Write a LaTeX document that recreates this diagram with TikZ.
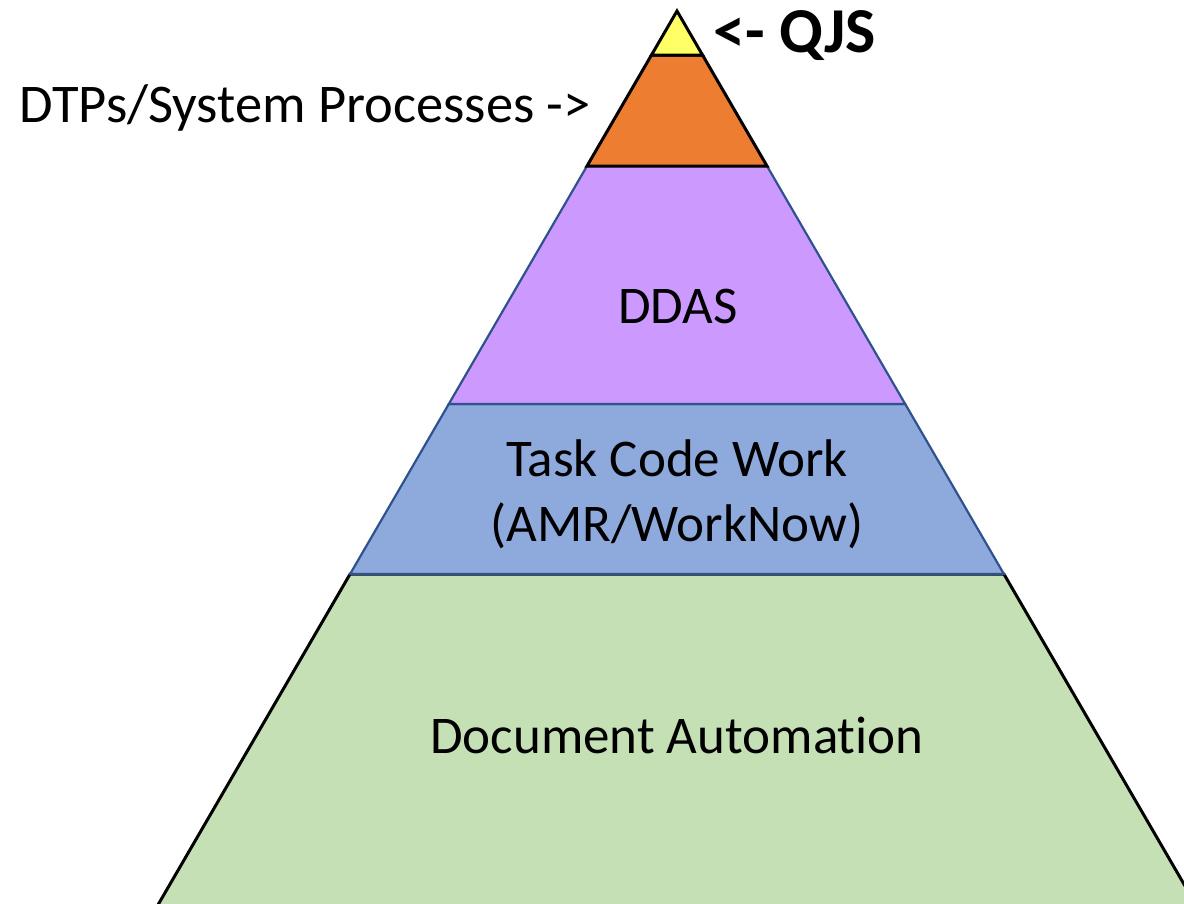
\documentclass[tikz,border=0pt]{standalone}
\usepackage{fontspec}
\setmainfont[Ligatures=NoCommon]{Carlito}
\definecolor{cyel}{HTML}{FFFF66}
\definecolor{cora}{HTML}{ED7D31}
\definecolor{cpur}{HTML}{CC99FF}
\definecolor{cblu}{HTML}{8EA9DB}
\definecolor{cgrn}{HTML}{C5E0B4}
\definecolor{cedge}{HTML}{2F528F}
\begin{document}
\begin{tikzpicture}[x=1pt,y=-1pt,
  blackband/.style={draw=black,line width=3pt,line join=miter},
  blueband/.style={draw=cedge,line width=2.2pt,line join=miter},
  lbl/.style={font=\fontsize{53}{65}\selectfont,align=center,inner sep=0pt}]
\useasboundingbox (0,0) rectangle (1184,903);
\clip (0,0) rectangle (1184,903);
% layer boundary coordinates
\coordinate (a) at (677,11);
\coordinate (yl) at (651.5,55);  \coordinate (yr) at (702.5,55);
\coordinate (ol) at (587,166);   \coordinate (or) at (767,166);
\coordinate (pl) at (448.8,404); \coordinate (pr) at (905.2,404);
\coordinate (bl) at (350.1,574); \coordinate (br) at (1003.9,574);
\coordinate (gl) at (149.2,920); \coordinate (gr) at (1204.8,920);
% layers
\path[blackband,fill=cgrn] (bl) -- (br) -- (gr) -- (gl) -- cycle;
\path[blueband,fill=cblu] (pl) -- (pr) -- (br) -- (bl) -- cycle;
\path[blueband,fill=cpur] (ol) -- (or) -- (pr) -- (pl) -- cycle;
\path[blackband,fill=cora] (yl) -- (yr) -- (or) -- (ol) -- cycle;
\path[blackband,fill=cyel] (a) -- (yr) -- (yl) -- cycle;
% labels
\node[lbl] (ddas) at (678,306) {DDAS};
\node[lbl] (task) at (677,494) {Task Code Work\\(AMR/WorkNow)};
\node[lbl] (doc) at (677,735) {Document Automation};
\node[lbl,anchor=base west,font=\fontsize{54.5}{60}\selectfont] (dtp) at (19,122) {DTPs/System Processes ->};
\node[lbl,anchor=base west,font=\fontsize{64}{70}\selectfont\bfseries] (qjs) at (713,52) {<- QJS};
\end{tikzpicture}
\end{document}
